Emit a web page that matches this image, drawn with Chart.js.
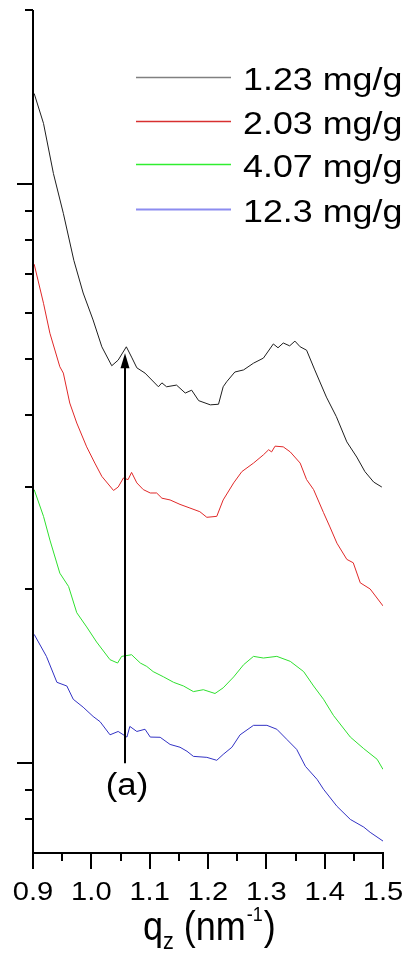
<!DOCTYPE html>
<html>
<head>
<meta charset="utf-8">
<script src="https://cdn.jsdelivr.net/npm/chart.js@4.4.1/dist/chart.umd.min.js"></script>
<style>
html,body{margin:0;padding:0;background:#fff;}
canvas{display:block;}
</style>
</head>
<body>
<canvas id="c" width="409" height="959"></canvas>
<script>
// ---- data (q_z in nm^-1, intensity in arbitrary log units) ----
const seriesNames = ['1.23 mg/g', '2.03 mg/g', '4.07 mg/g', '12.3 mg/g'];

const q1 = [0.902,0.918,0.935,0.952,0.970,0.986,1.003,1.018,1.035,1.046,1.060,1.069,1.078,1.092,1.115,1.121,1.129,1.146,1.161,1.172,1.184,1.204,1.218,1.226,1.232,1.246,1.261,1.278,1.295,1.312,1.320,1.329,1.340,1.349,1.358,1.369,1.383,1.403,1.420,1.438,1.455,1.469,1.484,1.498];
const y1 = [14.35,12.74,10.44,8.91,7.39,6.49,5.83,5.24,4.86,4.97,5.24,5.03,4.82,4.72,4.47,4.54,4.47,4.50,4.36,4.41,4.23,4.16,4.17,4.47,4.56,4.74,4.78,4.91,5.01,5.30,5.22,5.32,5.26,5.36,5.24,5.17,4.78,4.29,3.97,3.59,3.38,3.19,3.06,3.00];

const q2 = [0.902,0.918,0.929,0.946,0.952,0.963,0.975,0.992,1.006,1.018,1.038,1.046,1.055,1.063,1.069,1.078,1.089,1.101,1.112,1.121,1.135,1.152,1.169,1.186,1.198,1.215,1.226,1.244,1.258,1.278,1.295,1.304,1.309,1.315,1.329,1.341,1.358,1.369,1.381,1.398,1.409,1.421,1.438,1.449,1.461,1.478,1.500];
const y2 = [7.28,6.23,5.53,4.84,4.72,4.19,3.87,3.52,3.30,3.13,2.96,3.00,3.11,3.09,3.18,3.05,2.97,2.93,2.93,2.87,2.85,2.80,2.76,2.72,2.66,2.67,2.85,3.05,3.19,3.30,3.41,3.48,3.45,3.53,3.52,3.45,3.30,3.09,2.97,2.71,2.56,2.40,2.25,2.22,2.05,2.00,1.87];

const q3 = [0.902,0.918,0.929,0.946,0.961,0.975,0.992,1.009,1.032,1.045,1.052,1.069,1.084,1.095,1.106,1.124,1.141,1.158,1.175,1.192,1.212,1.226,1.244,1.261,1.278,1.295,1.318,1.341,1.364,1.381,1.398,1.415,1.444,1.467,1.490,1.500];
const y3 = [2.97,2.67,2.43,2.13,2.02,1.82,1.72,1.62,1.51,1.49,1.53,1.54,1.49,1.47,1.44,1.41,1.38,1.36,1.33,1.34,1.32,1.35,1.41,1.48,1.53,1.52,1.53,1.50,1.44,1.36,1.29,1.21,1.11,1.06,1.016,0.976];

const q4 = [0.902,0.923,0.941,0.958,0.969,0.986,1.003,1.015,1.032,1.046,1.061,1.066,1.078,1.092,1.101,1.118,1.135,1.152,1.164,1.175,1.198,1.215,1.226,1.241,1.255,1.278,1.301,1.318,1.335,1.352,1.367,1.387,1.398,1.421,1.444,1.467,1.478,1.500];
const y4 = [1.67,1.53,1.38,1.36,1.29,1.25,1.205,1.18,1.12,1.135,1.11,1.158,1.135,1.145,1.11,1.109,1.078,1.066,1.049,1.028,1.024,1.012,1.036,1.066,1.12,1.163,1.163,1.145,1.10,1.057,0.988,0.938,0.902,0.843,0.80,0.776,0.760,0.734];

// ---- ticks ----
const xMajorTicks = [0.9, 1.0, 1.1, 1.2, 1.3, 1.4, 1.5];
const xTickLabels = ['0.9', '1.0', '1.1', '1.2', '1.3', '1.4', '1.5'];
const xMinorTicks = [0.95, 1.05, 1.15, 1.25, 1.35, 1.45];
const yMajorTicks = [1, 10];
const yMinorTicks = [0.8, 0.9, 2, 3, 4, 5, 6, 7, 8, 9, 20];

// ---- annotation ----
const arrowQ = 1.0585;
const arrowFrom = 1.0;
const arrowTo = 5.11;
const arrowLabel = '(a)';

const lineColors = ['#1e1e1e', '#e02828', '#2ee02e', '#3232c4'];
const legendColors = ['#808080', '#d83030', '#30ee30', '#8c8cf0'];

function pts(qs, ys) { return qs.map((q, i) => ({ x: q, y: ys[i] })); }

const FONT = '"Liberation Sans", Arial, sans-serif';

function sText(ctx, text, x, y, align, size, sx) {
  ctx.save();
  ctx.font = size + 'px ' + FONT;
  ctx.translate(x, y);
  ctx.scale(sx, 1);
  ctx.textAlign = align;
  ctx.textBaseline = 'alphabetic';
  ctx.fillText(text, 0, 0);
  ctx.restore();
}
function sWidth(ctx, text, size, sx) {
  ctx.save();
  ctx.font = size + 'px ' + FONT;
  const w = ctx.measureText(text).width * sx;
  ctx.restore();
  return w;
}

const decor = {
  id: 'decor',
  afterDraw(chart) {
    const ctx = chart.ctx;
    const xs = chart.scales.x, ys = chart.scales.y;
    const ca = chart.chartArea;
    ctx.save();
    ctx.fillStyle = '#000';
    ctx.strokeStyle = '#000';
    ctx.lineWidth = 2;
    ctx.lineCap = 'butt';
    const L = Math.round(ca.left), B = Math.round(ca.bottom), T = Math.round(ca.top), R = Math.round(ca.right);
    // axes lines
    ctx.beginPath();
    ctx.moveTo(L, T); ctx.lineTo(L, B + 1);
    ctx.moveTo(L - 1, B); ctx.lineTo(R + 1, B);
    ctx.stroke();
    // y ticks
    ctx.beginPath();
    yMajorTicks.forEach(v => { const p = Math.round(ys.getPixelForValue(v)); ctx.moveTo(L, p); ctx.lineTo(L - 16, p); });
    yMinorTicks.forEach(v => { const p = Math.round(ys.getPixelForValue(v)); ctx.moveTo(L, p); ctx.lineTo(L - 8, p); });
    // x ticks
    xMajorTicks.forEach(v => { const p = Math.round(xs.getPixelForValue(v)); ctx.moveTo(p, B); ctx.lineTo(p, B + 16); });
    xMinorTicks.forEach(v => { const p = Math.round(xs.getPixelForValue(v)); ctx.moveTo(p, B); ctx.lineTo(p, B + 8); });
    ctx.stroke();
    // x tick labels
    xMajorTicks.forEach((v, i) => {
      sText(ctx, xTickLabels[i], xs.getPixelForValue(v), 900, 'center', 26, 1.12);
    });
    // axis title q_z (nm^-1)
    let tx = 143; const tb = 940;
    sText(ctx, 'q', tx, tb, 'left', 40, 0.9); tx += sWidth(ctx, 'q', 40, 0.9);
    sText(ctx, 'z', tx, tb + 9, 'left', 24, 0.9); tx += sWidth(ctx, 'z', 24, 0.9);
    sText(ctx, ' (nm', tx, tb, 'left', 40, 0.9); tx += sWidth(ctx, ' (nm', 40, 0.9);
    sText(ctx, '-1', tx + 1, 921, 'left', 20, 0.9); tx += sWidth(ctx, '-1', 20, 0.9) + 2;
    sText(ctx, ')', tx, tb, 'left', 40, 0.9);
    // legend
    const rows = [77, 121, 164, 209];
    seriesNames.forEach((n, i) => {
      ctx.beginPath();
      ctx.strokeStyle = legendColors[i];
      ctx.lineWidth = i === 3 ? 2 : 1.5;
      ctx.moveTo(136, rows[i] + 0.5); ctx.lineTo(231, rows[i] + 0.5);
      ctx.stroke();
      ctx.fillStyle = '#000';
      sText(ctx, n, 243, rows[i] + 12.5, 'left', 32, 1.12);
    });
    // arrow
    const ax = Math.round(xs.getPixelForValue(arrowQ));
    const a0 = ys.getPixelForValue(arrowFrom), a1 = ys.getPixelForValue(arrowTo);
    ctx.strokeStyle = '#000'; ctx.fillStyle = '#000'; ctx.lineWidth = 2;
    ctx.beginPath(); ctx.moveTo(ax, a0); ctx.lineTo(ax, a1 + 12); ctx.stroke();
    ctx.beginPath(); ctx.moveTo(ax, a1); ctx.lineTo(ax - 4.5, a1 + 15); ctx.lineTo(ax + 4.5, a1 + 15); ctx.closePath(); ctx.fill();
    sText(ctx, arrowLabel, ax + 2, 795, 'center', 31, 1.12);
    ctx.restore();
  }
};

new Chart(document.getElementById('c'), {
  type: 'line',
  data: {
    datasets: [
      { label: seriesNames[0], data: pts(q1, y1), borderColor: lineColors[0] },
      { label: seriesNames[1], data: pts(q2, y2), borderColor: lineColors[1] },
      { label: seriesNames[2], data: pts(q3, y3), borderColor: lineColors[2] },
      { label: seriesNames[3], data: pts(q4, y4), borderColor: lineColors[3] }
    ]
  },
  options: {
    responsive: false,
    animation: false,
    devicePixelRatio: 1,
    layout: { padding: { left: 33, right: 26, top: 10, bottom: 106 } },
    elements: { line: { borderWidth: 1, tension: 0, fill: false }, point: { radius: 0 } },
    scales: {
      x: { type: 'linear', min: 0.9, max: 1.5, display: false },
      y: { type: 'logarithmic', min: 0.7, max: 20, display: false }
    },
    plugins: { legend: { display: false }, tooltip: { enabled: false } }
  },
  plugins: [decor]
});
</script>
</body>
</html>
